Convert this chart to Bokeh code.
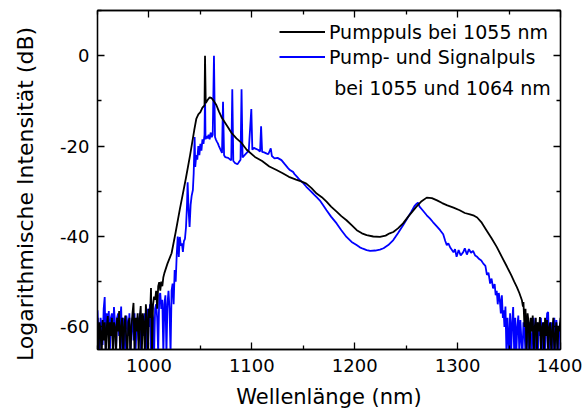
from bokeh.plotting import figure
from bokeh.models import LinearAxis, FixedTicker, Legend, LegendItem, Label, Range1d
from bokeh.embed import file_html
from bokeh.resources import INLINE

# ---------------- data ----------------
# Pump pulse at 1055 nm (black)
pump_nm = [950, 951, 952, 953, 954, 955, 956, 957, 958, 959, 960, 961, 962, 963, 964, 965,
           966, 967, 968, 969, 970, 971, 972, 973, 974, 975, 976, 977, 978, 979, 980, 981,
           982, 983, 984, 985, 986, 987, 988, 989, 990, 991, 992, 993, 994, 995, 996, 997,
           998, 999, 1000, 1001, 1002, 1003, 1004, 1005, 1006, 1007, 1008, 1009, 1010, 1011,
           1012, 1013, 1014, 1015, 1018, 1022, 1026, 1030, 1033, 1036, 1040, 1044, 1046,
           1048, 1050, 1052, 1054, 1054.5, 1055.2, 1057, 1059, 1061, 1063, 1065.5, 1068,
           1071, 1076.5, 1080, 1085, 1090, 1095, 1103, 1110, 1117, 1124, 1130, 1136, 1143,
           1148, 1153, 1158, 1163, 1168, 1172.6, 1177, 1182.4, 1187, 1192, 1197, 1202, 1207,
           1211.6, 1218, 1224.5, 1230, 1234, 1237.5, 1242, 1247, 1252, 1256, 1260, 1265,
           1270, 1275, 1280, 1285, 1290, 1296, 1302, 1307, 1312, 1316, 1319, 1323, 1328,
           1333, 1338, 1343, 1348, 1352, 1355, 1357.6, 1360, 1362.5, 1363.5, 1364, 1365,
           1366, 1367, 1368, 1369, 1370, 1371, 1372, 1373, 1374, 1375, 1376, 1377, 1378,
           1379, 1380, 1381, 1382, 1383, 1384, 1385, 1386, 1387, 1388, 1389, 1390, 1391,
           1392, 1393, 1394, 1395, 1396, 1397, 1398, 1399, 1400]
pump_db = [-58, -66, -59, -61, -67, -58.5, -63, -59, -66, -60, -57.6, -66, -59, -62, -58, -67,
           -59, -60, -66, -58, -61, -56.5, -66, -60, -58, -67, -60, -57.5, -63, -66, -59, -58,
           -67, -60, -57, -54.7, -66, -58, -61, -57, -66, -58, -55.4, -67, -57, -59, -66, -55,
           -58, -67, -56, -58, -51.4, -66, -55, -53.3, -54, -52, -56, -51, -50.1, -52,
           -50, -51, -49, -48.1, -46, -43.7, -39, -34, -30.5, -27, -22, -16.5, -14,
           -13, -12.5, -11.5, -11, 0, -10.5, -9.8, -9.2, -9.4, -10, -10.9, -12.3,
           -13.8, -15.7, -17, -18.3, -19.3, -20.8, -22.4, -23.3, -24.5, -25.3, -26, -26.8, -27.4,
           -27.8, -28.3, -29.3, -30.5, -31.3, -32.3, -33.4, -34.5, -35.5, -36.4, -37.5, -38.6, -39.3,
           -39.7, -40, -40.1, -39.8, -39.3, -39, -38.2, -37.1, -35.6, -34.5, -33.4, -32.2,
           -31.4, -31.5, -32, -32.6, -33.1, -33.6, -34.2, -34.8, -35.1, -35.4, -35.8, -36.8, -38.6,
           -40.4, -42.3, -44.5, -46.7, -48.5, -50, -51.2, -52.5, -54.1, -55.5, -54.5, -60,
           -56, -66, -57, -59, -66, -58, -61, -57.5, -66, -60, -58, -66, -59,
           -61, -57.8, -66, -60, -59, -66, -58, -62, -58.5, -66, -60, -59, -66,
           -61, -58, -66, -62, -59, -66, -60, -61, -58]

# Pump and signal pulses at 1055 and 1064 nm (blue)
sig_nm = [950, 951, 952, 953, 954, 955, 956, 957, 958, 959, 960, 961, 962, 963, 964, 965,
          966, 967, 968, 969, 970, 971, 972, 973, 974, 975, 976, 977, 978, 979, 980, 981,
          982, 983, 984, 985, 986, 987, 988, 989, 990, 991, 992, 993, 994, 995, 996, 997,
          998, 999, 1000, 1001, 1002, 1003, 1004, 1005, 1006, 1007, 1008, 1009, 1010, 1011,
          1012, 1013, 1014, 1015, 1016, 1017, 1018, 1019, 1020, 1021, 1022, 1023, 1024, 1025,
          1026, 1027, 1028, 1029, 1030, 1031, 1032, 1033, 1034, 1035, 1036, 1037, 1037.6,
          1038.5, 1039.5, 1040.5, 1041.5, 1042.7, 1043.5, 1044.4, 1045, 1046, 1047, 1048,
          1049, 1050, 1051, 1052, 1053, 1054, 1054.5, 1055, 1056, 1057, 1058, 1059, 1060,
          1061, 1062, 1063.2, 1064.2, 1065, 1066, 1067, 1068, 1069, 1070, 1071, 1072, 1073,
          1074, 1075, 1077, 1079, 1080, 1081, 1082, 1084, 1086, 1087, 1089, 1090, 1091, 1093,
          1095, 1097, 1099.5, 1100.5, 1102, 1104, 1106, 1108, 1109, 1110, 1112, 1114, 1116,
          1118.4, 1119.5, 1122, 1125, 1128.8, 1132, 1135, 1137, 1140, 1141.5, 1144, 1146.6,
          1150, 1153, 1156, 1160, 1163, 1166, 1169, 1172.6, 1177, 1182.4, 1187, 1192, 1197,
          1201.8, 1205, 1208, 1211.6, 1215, 1220, 1224.5, 1228, 1232.6, 1237.5, 1242, 1247,
          1251, 1255, 1258, 1260, 1261.5, 1263, 1266, 1270, 1273, 1276, 1280, 1283, 1286,
          1288, 1289.5, 1291, 1293, 1296, 1297.5, 1299, 1301, 1303, 1305.6, 1307, 1309, 1311,
          1313, 1315, 1317, 1319, 1321, 1323, 1325, 1327, 1328.5, 1330, 1331.6, 1333, 1334.5,
          1336, 1337, 1338, 1339, 1340, 1341, 1342, 1343, 1344, 1344.7, 1345.5, 1346.5,
          1347.5, 1348.5, 1349, 1350, 1351, 1352, 1353, 1354, 1355, 1356, 1357, 1358, 1359,
          1360, 1361, 1362, 1363, 1364, 1365, 1366, 1367, 1368, 1369, 1370, 1371, 1372, 1373,
          1374, 1375, 1376, 1377, 1378, 1379, 1380, 1381, 1382, 1383, 1384, 1385, 1386, 1387,
          1388, 1389, 1390, 1391, 1392, 1393, 1394, 1395, 1396, 1397, 1398, 1399, 1400]
sig_db = [-56.3, -62, -66, -58, -60, -64, -56, -53.4, -66, -57, -60, -56.5, -66, -58, -57, -63,
          -55.6, -59, -66, -58, -57, -62, -59, -55.5, -66, -58, -60, -66, -57.5, -59, -62, -57,
          -66, -60, -58, -63, -57, -66, -59, -58, -63, -57, -66, -60, -58, -62, -57, -66,
          -59, -56, -60, -55, -66, -57, -58, -66, -56, -55, -58, -66, -53, -52.5,
          -56, -54, -66, -55, -53, -66, -55, -52, -56, -66, -52, -50.4, -55, -47.4,
          -50, -44, -40, -44.5, -40.1, -42, -41.5, -43.4, -41, -40.5, -38, -33, -28,
          -34, -37.9, -33, -31, -29.7, -26, -18, -24.6, -22, -23, -20,
          -22, -19.5, -21, -18.5, -19.5, -17.5, -8, -18.5, -17.8, -18.3, -17.5, -18.5, -17,
          -18, -17.5, 0, -18, -18.5, -19, -19.4, -20, -20.5, -21, -21.5, -10.2, -22,
          -22.4, -22.5, -22.6, -23, -23.1, -7.4, -23.3, -23.8, -24, -23.7, -23, -7.4, -22.5, -22,
          -21.5, -21, -11.8, -20.8, -20.4, -20.6, -20.8, -21.2, -15.6, -21.3, -21.4, -21.6, -21.8,
          -20.5, -22.2, -22.7, -22.6, -23.1, -24, -24.8, -25.3, -25.7, -26.2, -26.8, -27.5,
          -28.2, -29, -29.7, -30.6, -31.3, -32, -33, -34.2, -35.6, -37.1, -38.6, -40.1, -41.2,
          -41.9, -42.4, -42.7, -43, -43.2, -43.1, -42.9, -42.6, -41.9, -40.8, -39.3, -37.5,
          -36, -34.5, -33.3, -32.8, -32.5, -33.4, -34.2, -35.3, -36, -36.8, -37.8, -38.6, -39.5,
          -41, -41.9, -41.5, -42.5, -43.5, -42.8, -44.5, -43, -44.2, -43.4, -42.6, -44, -42.8,
          -43.6, -43.2, -44.2, -44.5, -45, -45.3, -46, -46.5, -48.5, -48, -50.4, -49.3, -51.5,
          -50.5, -53, -52, -55, -52.5, -54, -57, -53, -58, -56.3, -60, -55.5,
          -66, -58, -61, -66, -57, -66, -59, -55.6, -66, -58, -66, -60, -57.5,
          -66, -58.5, -63, -66, -59, -61, -66, -57.5, -62, -66, -59, -61.5, -66, -60,
          -58, -66, -61, -59, -66, -60, -62, -58, -66, -60, -59, -66, -61, -57,
          -56.7, -66, -60, -59, -66, -61, -58, -66, -58.5, -62, -66, -60, -59]

x_ticks = [1000, 1100, 1200, 1300, 1400]
x_minor = [950, 1050, 1150, 1250, 1350]
y_ticks = [-60, -40, -20, 0]
y_minor = [-50, -30, -10, 10]
y_tick_labels = {-60: "-60", -40: "-40", -20: "-20", 0: "0"}

legend_labels = ["Pumppuls bei 1055 nm", "Pump- und Signalpuls", "bei 1055 und 1064 nm"]
x_label = "Wellenlänge (nm)"
y_label = "Logarithmische Intensität  (dB)"

FONT = "DejaVu Sans"

p = figure(width=582, height=416, output_backend="svg", toolbar_location=None,
           x_range=Range1d(950, 1400), y_range=Range1d(-65, 10),
           min_border_left=97, min_border_right=22, min_border_top=10, min_border_bottom=67,
           background_fill_color="white", border_fill_color="white")
p.xgrid.visible = False
p.ygrid.visible = False
p.outline_line_color = "black"
p.outline_line_width = 1.3

r_sig = p.line(sig_nm, sig_db, line_color="#0000ff", line_width=1.8)
r_pump = p.line(pump_nm, pump_db, line_color="black", line_width=1.8)


def style_axis(ax, ticks, minor, show_labels):
    ax.ticker = FixedTicker(ticks=ticks, minor_ticks=minor)
    ax.axis_line_color = "black"
    ax.axis_line_width = 1.3
    ax.major_tick_line_color = "black"
    ax.minor_tick_line_color = "black"
    ax.major_tick_line_width = 1.3
    ax.minor_tick_line_width = 1.3
    ax.major_tick_in = 7
    ax.major_tick_out = 0
    ax.minor_tick_in = 4
    ax.minor_tick_out = 0
    if show_labels:
        ax.major_label_text_font = FONT
        ax.major_label_text_font_size = "18px"
        ax.major_label_text_color = "black"
        ax.axis_label_text_font = FONT
        ax.axis_label_text_font_style = "normal"
        ax.axis_label_text_color = "black"
    else:
        ax.major_label_overrides = {t: "" for t in ticks}
        ax.major_label_standoff = 0


xa = p.xaxis[0]
style_axis(xa, x_ticks, x_minor, True)
xa.axis_label = x_label
xa.axis_label_text_font_size = "21px"
xa.major_label_standoff = 9
xa.axis_label_standoff = 10

ya = p.yaxis[0]
style_axis(ya, y_ticks, y_minor, True)
ya.major_label_overrides = y_tick_labels
# trailing no-break spaces push the rotated title slightly down, as in the reference
ya.axis_label = y_label + "\u00a0\u00a0\u00a0"
ya.axis_label_text_font_size = "22px"
ya.major_label_standoff = 8
ya.axis_label_standoff = 19

top = LinearAxis()
style_axis(top, x_ticks, x_minor, False)
p.add_layout(top, "above")
right = LinearAxis()
style_axis(right, y_ticks, y_minor, False)
p.add_layout(right, "right")

legend = Legend(items=[LegendItem(label=legend_labels[0], renderers=[r_pump]),
                       LegendItem(label=legend_labels[1], renderers=[r_sig])],
                location=(182, 280), orientation="vertical",
                glyph_width=46, glyph_height=25, label_height=25, label_standoff=4,
                padding=0, spacing=0, margin=0,
                border_line_alpha=0, background_fill_alpha=0,
                label_text_font=FONT, label_text_font_size="19px", label_text_color="black")
p.add_layout(legend, "center")

third = Label(x=1180, y=-7.2, text=legend_labels[2], text_font=FONT,
              text_font_size="19px", text_color="black", text_baseline="alphabetic")
p.add_layout(third)

open("out.html", "w").write(file_html(p, INLINE))
